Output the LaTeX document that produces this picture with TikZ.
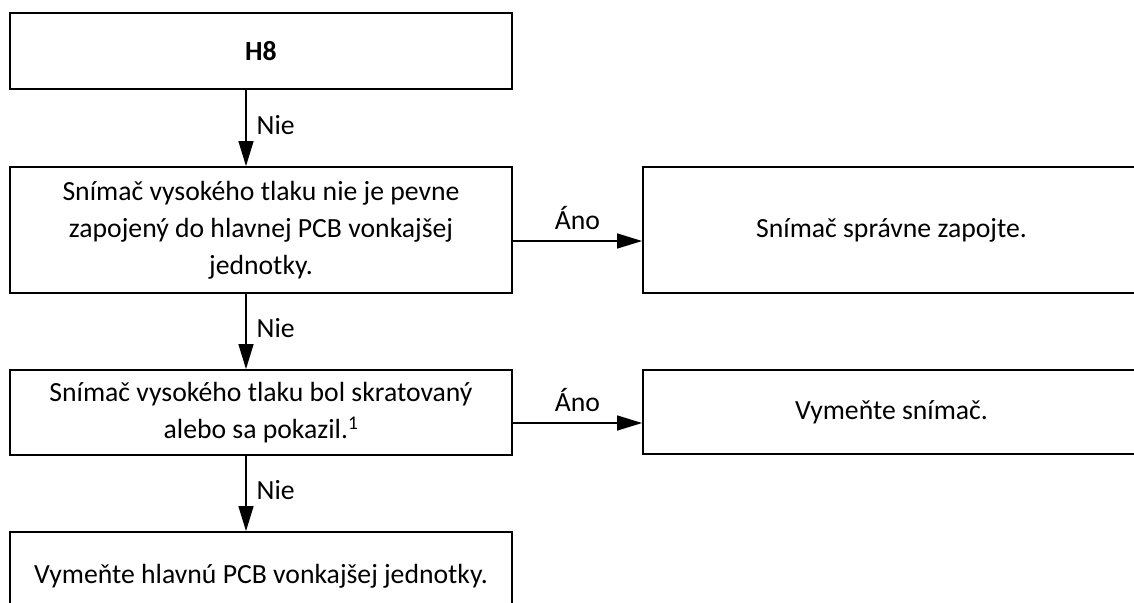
\documentclass[tikz,border=0pt]{standalone}
\usepackage{fontspec}
\setmainfont{Carlito}
\usetikzlibrary{arrows.meta,calc}
\begin{document}
\begin{tikzpicture}[x=1pt,y=-1pt,
  box/.style={draw=black,line width=1.8pt,align=center,inner sep=0pt,font=\fontsize{27.7}{37}\selectfont},
  conn/.style={line width=1.4pt,-{Triangle[length=25pt,width=15pt]}},
  lbl/.style={font=\fontsize{27.7}{37}\selectfont,inner sep=0pt}]
\useasboundingbox (0,0) rectangle (1134,602);
\clip (0,0) rectangle (1134,602);
\node[box,minimum width=502pt,minimum height=76pt] (h8) at (261,51) {\textbf{H8}};
\node[box,minimum width=502pt,minimum height=126pt] (b2) at (261,230) {Snímač vysokého tlaku nie je pevne\\zapojený do hlavnej PCB vonkajšej\\jednotky.};
\node[box,minimum width=497pt,minimum height=126pt] (r1) at (891.5,230) {Snímač správne zapojte.};
\node[box,minimum width=502pt,minimum height=85pt] (b3) at (261,412.5) {Snímač vysokého tlaku bol skratovaný\\alebo sa pokazil.\textsuperscript{1}};
\node[box,minimum width=497pt,minimum height=84pt] (r2) at (891.5,412) {Vymeňte snímač.};
\node[box,minimum width=502pt,minimum height=88pt] (b4) at (261,576) {Vymeňte hlavnú PCB vonkajšej jednotky.};
\coordinate (vx) at (246,0);
\coordinate (hy1) at (0,241);
\coordinate (hy2) at (0,423);
\draw[conn] (h8.south -| vx) -- node[lbl,right=10pt,yshift=3pt]{Nie} (b2.north -| vx);
\draw[conn] (b2.south -| vx) -- node[lbl,right=10pt,yshift=3pt]{Nie} (b3.north -| vx);
\draw[conn] (b3.south -| vx) -- node[lbl,right=10pt,yshift=3pt]{Nie} (b4.north -| vx);
\draw[conn] (b2.east |- hy1) -- node[lbl,above=11pt]{Áno} (r1.west |- hy1);
\draw[conn] (b3.east |- hy2) -- node[lbl,above=11pt]{Áno} (r2.west |- hy2);
\end{tikzpicture}
\end{document}
